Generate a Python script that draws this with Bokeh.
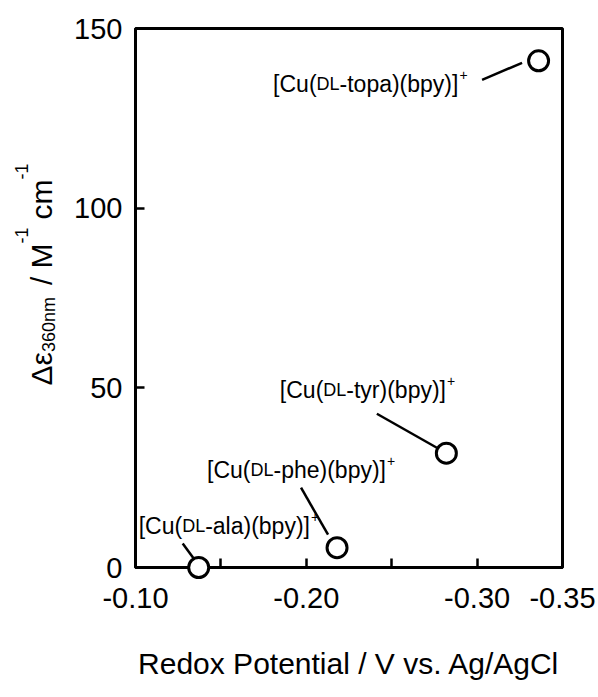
import math

from bokeh.core.properties import value
from bokeh.embed import file_html
from bokeh.layouts import row
from bokeh.models import ColumnDataSource, FixedTicker, NumeralTickFormatter, Range1d
from bokeh.plotting import figure
from bokeh.resources import INLINE

# ---- data -------------------------------------------------------------
ligands = ["ala", "phe", "tyr", "topa"]
redox_potential = [-0.137, -0.218, -0.282, -0.336]   # V vs. Ag/AgCl
delta_eps_360 = [0.0, 5.5, 31.8, 141.0]              # M^-1 cm^-1

x_ticks = [-0.10, -0.20, -0.30, -0.35]
x_tick_labels = ["-0.10", "-0.20", "-0.30", "-0.35"]
x_minor_ticks = [-0.15, -0.25]
y_ticks = [0, 50, 100, 150]
y_tick_labels = ["0", "50", "100", "150"]

# ---- layout -----------------------------------------------------------
W, H = 598, 697
TITLE_W = 60                     # strip on the left holding the rotated y title
LEFT, RIGHT, TOP, BOTTOM = 135, 36, 28, 130
PLOT_W = W - TITLE_W
FRAME_W = W - LEFT - RIGHT
FRAME_H = H - TOP - BOTTOM
X0, X1 = -0.10, -0.35
Y0, Y1 = 0.0, 150.0
PX_PER_X = FRAME_W / (X0 - X1)      # axis runs from -0.10 (left) to -0.35 (right)
PX_PER_Y = FRAME_H / (Y1 - Y0)

FONT = "Liberation Sans"
MAIN_PX, SC_PX, SUP_PX = 23, 18, 14
ASCENT, DESCENT = 0.905, 0.212   # font box of Liberation Sans, per em

# label anchor (start x, baseline y) and leader line, in px relative to each point
label_offset = {"ala": (-60, -42), "phe": (-130, -78), "tyr": (-166.5, -63), "topa": (-265.5, 23)}
leader_offset = {
    "ala": (-16, -24, -5, -9),
    "phe": (-36, -60, -9, -13),
    "tyr": (-69.5, -39.5, -9.5, -5.5),
    "topa": (-56.5, 19, -16.5, 2),
}

# advance widths of Liberation Sans (per 1000 em)
ADV = {
    " ": 278, "[": 278, "]": 278, "(": 333, ")": 333, "-": 333, "+": 584, "/": 278, ".": 278,
    "A": 667, "C": 722, "D": 722, "L": 556, "M": 833, "V": 667,
    "a": 556, "b": 556, "c": 500, "e": 556, "h": 556, "l": 222, "m": 833, "n": 556,
    "o": 556, "p": 556, "r": 333, "t": 278, "u": 556, "y": 500,
    "Δ": 668, "ε": 446,
}
for d in "0123456789":
    ADV[d] = 556


def text_width(s, px):
    return sum(ADV.get(c, 556) for c in s) * px / 1000.0


def dx_to_data(dx):
    return -dx / PX_PER_X


def dy_to_data(dy):
    return -dy / PX_PER_Y


p = figure(
    width=PLOT_W, height=H, output_backend="svg", toolbar_location=None,
    x_range=Range1d(X0, X1), y_range=Range1d(Y0, Y1),
    min_border_left=LEFT - TITLE_W, min_border_right=RIGHT,
    min_border_top=TOP, min_border_bottom=BOTTOM,
    background_fill_color="white", border_fill_color="white",
)
p.grid.visible = False
p.outline_line_color = "black"
p.outline_line_width = 3
p.outline_line_alpha = 1.0

# ---- axes -------------------------------------------------------------
xa = p.xaxis[0]
xa.ticker = FixedTicker(ticks=x_ticks, minor_ticks=x_minor_ticks)
xa.formatter = NumeralTickFormatter(format="0.00")
xa.major_label_overrides = {t: s for t, s in zip(x_ticks, x_tick_labels)}
xa.axis_label = "Redox Potential / V vs. Ag/AgCl"
xa.axis_label_text_font = FONT
xa.axis_label_text_font_size = "30px"
xa.axis_label_text_font_style = "normal"
xa.axis_label_text_color = "black"
xa.axis_label_standoff = 36

ya = p.yaxis[0]
ya.ticker = FixedTicker(ticks=y_ticks)
ya.major_label_overrides = {t: s for t, s in zip(y_ticks, y_tick_labels)}
ya.axis_label = None

for ax in (xa, ya):
    ax.axis_line_width = 3
    ax.axis_line_color = "black"
    ax.major_tick_in = 9
    ax.major_tick_out = 0
    ax.minor_tick_in = 9
    ax.minor_tick_out = 0
    ax.major_tick_line_width = 2.5
    ax.minor_tick_line_width = 2.5
    ax.major_label_text_font = FONT
    ax.major_label_text_font_size = "29px"
    ax.major_label_text_color = "black"
ya.minor_tick_line_color = None
xa.major_label_standoff = 20
ya.major_label_standoff = 13

# ---- leader lines -----------------------------------------------------
seg = dict(x0=[], y0=[], x1=[], y1=[])
for lig, x, y in zip(ligands, redox_potential, delta_eps_360):
    sx0, sy0, sx1, sy1 = leader_offset[lig]
    seg["x0"].append(x + dx_to_data(sx0))
    seg["y0"].append(y + dy_to_data(sy0))
    seg["x1"].append(x + dx_to_data(sx1))
    seg["y1"].append(y + dy_to_data(sy1))
p.segment(x0="x0", y0="y0", x1="x1", y1="y1", source=ColumnDataSource(seg),
          line_color="black", line_width=2.5, level="overlay")

# ---- complex labels: [Cu(DL-xxx)(bpy)]+ with small-caps DL -----------
txt = dict(x=[], y=[], text=[], size=[])
for lig, x, y in zip(ligands, redox_potential, delta_eps_360):
    ox, oy = label_offset[lig]
    rest = "-" + lig + ")(bpy)]"
    pieces = [("[Cu(", MAIN_PX, 0), ("DL", SC_PX, 0), (rest, MAIN_PX, 0), ("+", SUP_PX, -9)]
    cx = ox
    for s, px, rise in pieces:
        if s == "+":
            cx += 1
        txt["x"].append(x + dx_to_data(cx))
        txt["y"].append(y + dy_to_data(oy + rise))
        txt["text"].append(s)
        txt["size"].append(f"{px}px")
        cx += text_width(s, px)
p.text(x="x", y="y", text="text", text_font_size="size", source=ColumnDataSource(txt),
       text_font=value(FONT), text_color="black", text_align="left", text_baseline="alphabetic")

# ---- data points --------------------------------------------------------
p.scatter(redox_potential, delta_eps_360, marker="circle", size=20,
          fill_color="white", line_color="black", line_width=3, level="overlay")

# ---- rotated y-axis title: Δε360nm / M-1 cm-1 (pixel-space strip) ------
# The strip's frame lines up with the main frame (TOP..H-BOTTOM), so its
# y range is set so that one data unit equals one pixel, measured from the top.
t = figure(
    width=TITLE_W, height=H, output_backend="svg", toolbar_location=None,
    x_range=Range1d(0, TITLE_W), y_range=Range1d(BOTTOM, H - TOP),
    x_axis_type=None, y_axis_type=None,
    min_border_left=0, min_border_right=0, min_border_top=TOP, min_border_bottom=BOTTOM,
    background_fill_color="white", border_fill_color="white",
)
t.grid.visible = False
t.outline_line_color = None

TITLE_PX, TITLE_SUB_PX = 30, 18
title_baseline_sx = 51          # x of the title's baseline
title_start_sy = 385            # y (from top) where the title begins; it reads upward
title_pieces = [
    ("Δε", TITLE_PX, 0, 0),
    ("360nm", TITLE_SUB_PX, 4, 0),
    ("/ M", TITLE_PX, 0, 12),
    ("-1", TITLE_SUB_PX, -24, 0),
    ("cm", TITLE_PX, 0, 8),
    ("-1", TITLE_SUB_PX, -24, 0),
]
tt = dict(x=[], y=[], text=[], size=[])
run = 0.0
for s, px, shift, gap_before in title_pieces:
    run += gap_before
    w = text_width(s, px)
    # each piece is placed by its centre; the text's "up" points to the left
    mid_above_baseline = (ASCENT - DESCENT) / 2 * px
    tt["x"].append(title_baseline_sx + shift - mid_above_baseline)
    tt["y"].append(H - (title_start_sy - run - w / 2))
    tt["text"].append(s)
    tt["size"].append(f"{px}px")
    run += w
t.text(x="x", y="y", text="text", text_font_size="size", source=ColumnDataSource(tt),
       angle=math.pi / 2, text_font=value(FONT), text_color="black",
       text_align="center", text_baseline="middle")

layout = row(t, p, spacing=0)
open("out.html", "w").write(file_html(layout, INLINE))
